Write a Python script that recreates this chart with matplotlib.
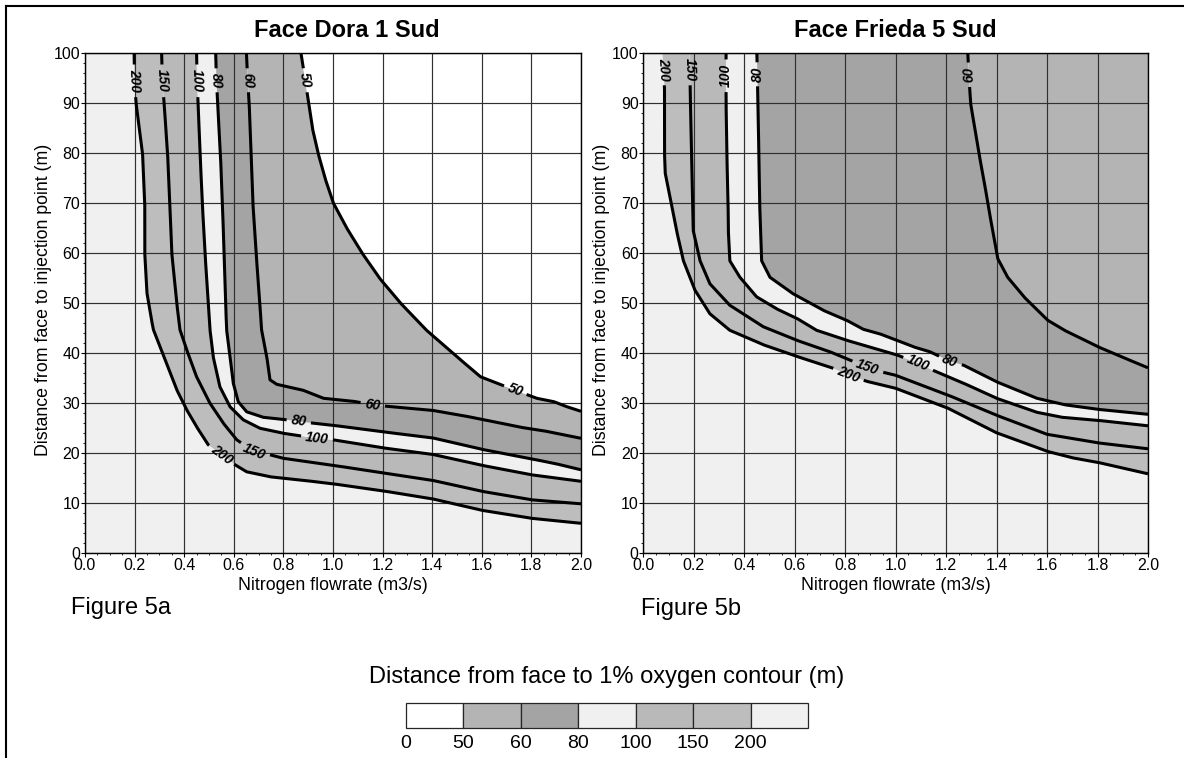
import numpy as np
import matplotlib
matplotlib.use("Agg")
import matplotlib.pyplot as plt
from matplotlib.lines import Line2D
from matplotlib.font_manager import FontProperties

plt.rcParams['font.family'] = ['Liberation Sans', 'DejaVu Sans']

# ---------------- data ----------------
titles = ["Face Dora 1 Sud", "Face Frieda 5 Sud"]
fig_labels = ["Figure 5a", "Figure 5b"]
x_label = "Nitrogen flowrate (m3/s)"
y_label = "Distance from face to injection point (m)"
legend_title = "Distance from face to 1% oxygen contour (m)"
legend_bounds = [0, 50, 60, 80, 100, 150, 200]
legend_labels = ["0", "50", "60", "80", "100", "150", "200"]
legend_colors = ["#ffffff", "#b4b4b4", "#a4a4a4", "#f0f0f0", "#b9b9b9", "#bdbdbd", "#f0f0f0"]

x_ticks = [0.0, 0.2, 0.4, 0.6, 0.8, 1.0, 1.2, 1.4, 1.6, 1.8, 2.0]
y_ticks = [0, 10, 20, 30, 40, 50, 60, 70, 80, 90, 100]

# Face Dora 1 Sud contour lines (x = flowrate, y = distance)
levels_a = [200, 150, 100, 80, 60, 50]
a200_x = [0.198, 0.200, 0.206, 0.232, 0.241, 0.241, 0.250, 0.268, 0.276, 0.329, 0.370, 0.410, 0.450, 0.497, 0.551, 0.605, 0.652, 0.746, 0.880, 1.000, 1.200, 1.400, 1.600, 1.800, 2.000]
a200_y = [100, 94.5, 90, 80, 70, 60, 52, 46.7, 44.7, 38.0, 32.7, 28.7, 25.3, 21.7, 19.7, 17.7, 16.3, 15.3, 14.6, 13.9, 12.5, 10.9, 8.6, 7.0, 6.0]
a150_x = [0.309, 0.312, 0.319, 0.333, 0.342, 0.350, 0.370, 0.383, 0.410, 0.450, 0.504, 0.558, 0.612, 0.683, 0.746, 0.800, 1.000, 1.200, 1.400, 1.600, 1.800, 2.000]
a150_y = [100, 94.5, 90, 80, 70, 60, 50, 44.7, 40.7, 35.3, 30.0, 26.0, 22.7, 20.3, 19.7, 19.0, 17.6, 16.1, 14.6, 12.4, 10.7, 9.9]
a100_x = [0.450, 0.452, 0.456, 0.464, 0.473, 0.484, 0.497, 0.504, 0.517, 0.544, 0.585, 0.638, 0.706, 0.800, 0.867, 0.934, 1.000, 1.200, 1.400, 1.600, 1.800, 2.000]
a100_y = [100, 94.5, 90, 80, 70, 60, 50, 44.7, 39.3, 33.3, 29.3, 26.7, 25.0, 24.0, 23.5, 23.0, 22.7, 21.1, 19.8, 17.6, 15.7, 14.4]
a80_x = [0.527, 0.530, 0.535, 0.546, 0.554, 0.561, 0.567, 0.571, 0.585, 0.598, 0.618, 0.652, 0.719, 0.813, 0.861, 0.907, 1.000, 1.200, 1.400, 1.600, 1.800, 1.900, 2.000]
a80_y = [100, 94.6, 90, 80, 70, 60, 50, 44.7, 39.3, 34.0, 30.3, 28.3, 27.2, 26.7, 26.4, 26.1, 25.6, 24.3, 23.1, 20.8, 18.9, 17.9, 16.7]
a60_x = [0.651, 0.656, 0.662, 0.670, 0.677, 0.690, 0.705, 0.712, 0.733, 0.746, 0.773, 0.880, 0.962, 1.083, 1.160, 1.218, 1.400, 1.528, 1.600, 1.757, 1.850, 2.000]
a60_y = [100, 94.6, 90, 80, 70, 60, 50, 44.7, 39.3, 34.7, 33.8, 32.6, 31.0, 30.4, 29.7, 29.4, 28.6, 27.5, 26.8, 25.2, 24.5, 23.0]
a50_x = [0.871, 0.888, 0.902, 0.917, 0.940, 0.968, 1.002, 1.056, 1.118, 1.188, 1.273, 1.375, 1.500, 1.595, 1.663, 1.735, 1.822, 1.892, 1.938, 2.000]
a50_y = [100, 94.6, 90, 85, 80, 75, 70, 65, 60, 55, 50, 44.7, 39.3, 35.3, 34.0, 32.6, 31.0, 30.3, 29.4, 28.4]

# Face Frieda 5 Sud contour lines
levels_b = [200, 150, 100, 80, 60]
b200_x = [0.076, 0.080, 0.084, 0.084, 0.087, 0.111, 0.132, 0.159, 0.205, 0.264, 0.343, 0.476, 0.601, 0.753, 0.812, 0.885, 1.000, 1.136, 1.200, 1.400, 1.600, 1.700, 1.800, 2.000]
b200_y = [100, 96.8, 93, 80, 76, 70, 64.5, 58.5, 52.6, 47.9, 44.6, 41.7, 39.5, 37.0, 35.7, 34.4, 33.0, 30.4, 29.2, 24.1, 20.4, 19.1, 18.2, 15.9]
b150_x = [0.183, 0.185, 0.186, 0.191, 0.195, 0.198, 0.225, 0.264, 0.343, 0.476, 0.608, 0.740, 0.888, 0.951, 1.000, 1.136, 1.200, 1.400, 1.600, 1.800, 2.000]
b150_y = [100, 96.8, 92, 80, 70, 64.5, 58.5, 53.9, 49.6, 45.3, 42.6, 40.3, 37.2, 36.2, 35.6, 33.0, 31.8, 27.6, 23.8, 22.1, 20.9]
b100_x = [0.328, 0.328, 0.328, 0.331, 0.336, 0.337, 0.343, 0.383, 0.449, 0.528, 0.608, 0.687, 0.806, 1.004, 1.090, 1.148, 1.270, 1.400, 1.560, 1.660, 1.800, 2.000]
b100_y = [100, 95.5, 90, 80, 70, 64.5, 58.5, 55.2, 51.3, 48.9, 47.0, 44.6, 42.6, 39.7, 38.0, 36.6, 34.0, 31.0, 28.2, 27.2, 26.6, 25.5]
b80_x = [0.450, 0.452, 0.454, 0.458, 0.461, 0.465, 0.469, 0.502, 0.594, 0.713, 0.806, 0.872, 0.937, 1.004, 1.070, 1.136, 1.215, 1.270, 1.400, 1.560, 1.670, 1.800, 2.000]
b80_y = [100, 95.8, 90, 80, 70, 64.5, 58.5, 55.2, 51.9, 48.6, 46.6, 44.8, 43.9, 42.6, 41.3, 40.3, 38.4, 37.6, 34.3, 31.0, 29.7, 28.8, 27.8]
b60_x = [1.286, 1.290, 1.297, 1.330, 1.352, 1.372, 1.392, 1.405, 1.444, 1.510, 1.603, 1.669, 1.802, 1.895, 2.000]
b60_y = [100, 95.7, 90, 80, 74, 68, 62.5, 58.9, 55.2, 51.2, 46.6, 44.6, 41.3, 39.3, 37.1]

# contour label anchors (x, y) on each line
a_label_top = [(0.200, 94.5), (0.312, 94.5), (0.452, 94.5), (0.530, 94.6), (0.656, 94.6), (0.888, 94.6)]
a_label_low = [(0.551, 19.7), (0.683, 20.3), (0.934, 23.0), (0.861, 26.4), (1.160, 29.7), (1.735, 32.6)]
b_label_top = [(0.080, 96.8), (0.185, 96.8), (0.328, 95.5), (0.452, 95.8), (1.290, 95.7)]
b_label_low = [(0.812, 35.7), (0.888, 37.2), (1.090, 38.0), (1.215, 38.4), None]
b_top_flip = [False, False, True, True, True]

# ---------------- figure ----------------
W, H = 1184, 758
fig = plt.figure(figsize=(W / 100, H / 100), dpi=100)
X_MAX, Y_MAX = 2.0, 100.0


def px_box(x0, y_top, w, h):
    return [x0 / W, 1 - (y_top + h) / H, w / W, h / H]


ax_a = fig.add_axes(px_box(85, 53.3, 496, 500))
ax_b = fig.add_axes(px_box(643.3, 53.3, 504.7, 500))

label_prop = FontProperties(family='Liberation Sans', weight='bold', style='italic', size=10)


def setup_axes(ax):
    ax.set_xlim(0, X_MAX)
    ax.set_ylim(0, Y_MAX)
    ax.set_xticks(x_ticks)
    ax.set_xticklabels([f"{v:.1f}" for v in x_ticks])
    ax.set_yticks(y_ticks)
    ax.set_xticks(np.arange(0, X_MAX + 1e-9, 0.05), minor=True)
    ax.set_yticks(np.arange(0, Y_MAX + 1e-9, 2), minor=True)
    ax.tick_params(which='major', direction='out', length=2.6, width=0.8, labelsize=11.5, pad=0.8)
    ax.tick_params(which='minor', direction='out', length=1.4, width=0.6)
    ax.set_axisbelow(True)
    ax.grid(True, which='major', color='#303030', linewidth=0.85)
    for s in ax.spines.values():
        s.set_linewidth(1.0)
        s.set_color('black')


def band_color(level_above_region):
    return legend_colors[legend_bounds.index(level_above_region)]


def fill_bands(ax, curves, levels):
    fx, fy = curves[0]
    ax.fill(list(fx) + [X_MAX, 0, 0], list(fy) + [0, 0, Y_MAX],
            color=band_color(levels[0]), lw=0, zorder=0.1)
    for i in range(len(curves) - 1):
        x1, y1 = curves[i]
        x2, y2 = curves[i + 1]
        ax.fill(list(x1) + list(x2)[::-1], list(y1) + list(y2)[::-1],
                color=band_color(levels[i + 1]), lw=0, zorder=0.1)
    lx, ly = curves[-1]
    idx = legend_bounds.index(levels[-1]) - 1
    ax.fill(list(lx) + [X_MAX], list(ly) + [Y_MAX],
            color=legend_colors[idx], lw=0, zorder=0.1)


def draw_line(ax, xs, ys, text, anchors, flips):
    renderer = fig.canvas.get_renderer()
    P = ax.transData.transform(np.column_stack([xs, ys]))
    parts = []
    for i in range(len(P) - 1):
        a, b = P[i], P[i + 1]
        n = max(int(np.hypot(*(b - a))), 1)
        t = np.linspace(0, 1, n, endpoint=False)[:, None]
        parts.append(a + (b - a) * t)
    parts.append(P[-1:])
    D = np.vstack(parts)
    keep = np.ones(len(D), bool)
    w, h, d = renderer.get_text_width_height_descent(text, label_prop, ismath=False)
    r = w / 2 + 4
    for anc, flip in zip(anchors, flips):
        if anc is None:
            continue
        c = ax.transData.transform(anc)
        dist = np.hypot(D[:, 0] - c[0], D[:, 1] - c[1])
        inside = np.where(dist < r)[0]
        if len(inside) == 0:
            continue
        keep[inside] = False
        p0 = D[max(inside.min() - 1, 0)]
        p1 = D[min(inside.max() + 1, len(D) - 1)]
        ang = np.degrees(np.arctan2(p1[1] - p0[1], p1[0] - p0[0]))
        if flip:
            ang += 180
        ax.text(anc[0], anc[1], text, rotation=ang, rotation_mode='anchor',
                ha='center', va='center', fontproperties=label_prop, zorder=4)
    D2 = D.copy()
    D2[~keep] = np.nan
    Dd = ax.transData.inverted().transform(D2)
    ax.plot(Dd[:, 0], Dd[:, 1], color='black', lw=2.2, solid_capstyle='butt',
            solid_joinstyle='round', zorder=3)


for ax in (ax_a, ax_b):
    setup_axes(ax)

curves_a = [(a200_x, a200_y), (a150_x, a150_y), (a100_x, a100_y), (a80_x, a80_y), (a60_x, a60_y), (a50_x, a50_y)]
curves_b = [(b200_x, b200_y), (b150_x, b150_y), (b100_x, b100_y), (b80_x, b80_y), (b60_x, b60_y)]

fill_bands(ax_a, curves_a, levels_a)
fill_bands(ax_b, curves_b, levels_b)

for i, (cx, cy) in enumerate(curves_a):
    draw_line(ax_a, cx, cy, str(levels_a[i]), [a_label_top[i], a_label_low[i]], [False, False])
for i, (cx, cy) in enumerate(curves_b):
    draw_line(ax_b, cx, cy, str(levels_b[i]), [b_label_top[i], b_label_low[i]], [b_top_flip[i], False])

# titles and labels
fig.text(347 / W, 1 - 37 / H, titles[0], ha='center', va='baseline', fontsize=17, fontweight='bold')
fig.text(895.6 / W, 1 - 37 / H, titles[1], ha='center', va='baseline', fontsize=17, fontweight='bold')
for x_c in (333, 895.6):
    fig.text(x_c / W, 1 - 590.5 / H, x_label, ha='center', va='baseline', fontsize=12.8)
for x_c in (44, 601):
    fig.text(x_c / W, 1 - 300 / H, y_label, ha='center', va='center', rotation=90, fontsize=12.8)
fig.text(70.8 / W, 1 - 614 / H, fig_labels[0], ha='left', va='baseline', fontsize=17)
fig.text(641.4 / W, 1 - 615 / H, fig_labels[1], ha='left', va='baseline', fontsize=17)

# legend
fig.text(607 / W, 1 - 683 / H, legend_title, ha='center', va='baseline', fontsize=17)
lax = fig.add_axes(px_box(405.7, 702.7, 402.6, 25))
lax.bar(np.arange(len(legend_colors)), np.ones(len(legend_colors)), width=1, align='edge',
        color=legend_colors, edgecolor='#262626', linewidth=0.9, clip_on=False)
lax.set_xlim(0, len(legend_colors))
lax.set_ylim(0, 1)
lax.axis('off')
for i, lab in enumerate(legend_labels):
    lax.text(i, -0.64, lab, ha='center', va='center', fontsize=14)

# outer frame (left and top)
fig.add_artist(Line2D([6 / W, 6 / W], [0, 1 - 6 / H], color='black', lw=1.5, transform=fig.transFigure))
fig.add_artist(Line2D([6 / W, 1], [1 - 6 / H, 1 - 6 / H], color='black', lw=1.5, transform=fig.transFigure))

fig.savefig("out.png", dpi=100)
